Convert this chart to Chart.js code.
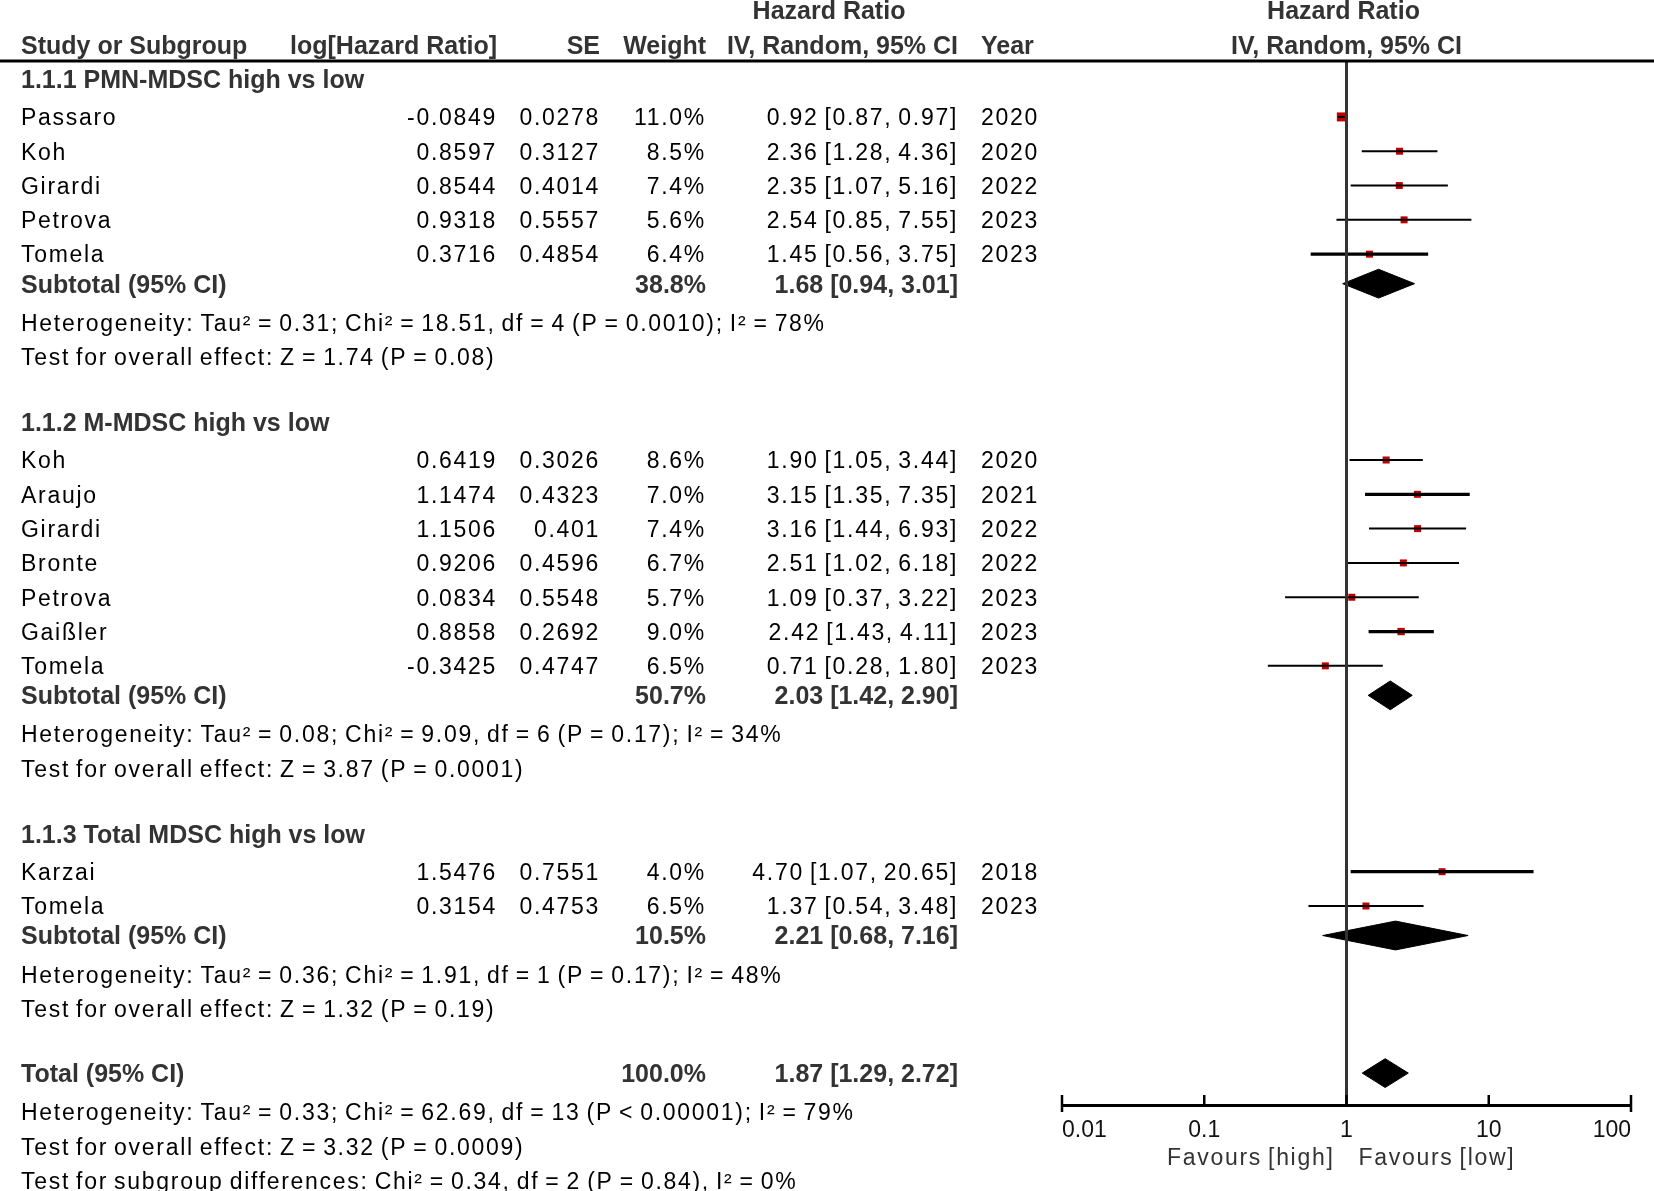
<!DOCTYPE html>
<html>
<head>
<meta charset="utf-8">
<title>Forest plot - MDSC high vs low</title>
<script src="https://cdn.jsdelivr.net/npm/chart.js@4.4.1/dist/chart.umd.min.js"></script>
<style>
  html, body { margin: 0; padding: 0; background: #fff; }
  canvas { display: block; }
</style>
</head>
<body>
<canvas id="forest" width="1654" height="1191"></canvas>
<script>
// dados do forest plot
const groupTitles = ['1.1.1 PMN-MDSC high vs low', '1.1.2 M-MDSC high vs low', '1.1.3 Total MDSC high vs low'];
const studyNames = ['Passaro', 'Koh', 'Girardi', 'Petrova', 'Tomela',
                    'Koh', 'Araujo', 'Girardi', 'Bronte', 'Petrova', 'Gaißler', 'Tomela',
                    'Karzai', 'Tomela'];
const studyGroup = [0, 0, 0, 0, 0, 1, 1, 1, 1, 1, 1, 1, 2, 2];
const logHR = [-0.0849, 0.8597, 0.8544, 0.9318, 0.3716, 0.6419, 1.1474, 1.1506, 0.9206, 0.0834, 0.8858, -0.3425, 1.5476, 0.3154];
const seValues = [0.0278, 0.3127, 0.4014, 0.5557, 0.4854, 0.3026, 0.4323, 0.401, 0.4596, 0.5548, 0.2692, 0.4747, 0.7551, 0.4753];
const weights = [11.0, 8.5, 7.4, 5.6, 6.4, 8.6, 7.0, 7.4, 6.7, 5.7, 9.0, 6.5, 4.0, 6.5];
const hrValues = [0.92, 2.36, 2.35, 2.54, 1.45, 1.90, 3.15, 3.16, 2.51, 1.09, 2.42, 0.71, 4.70, 1.37];
const hrLow = [0.87, 1.28, 1.07, 0.85, 0.56, 1.05, 1.35, 1.44, 1.02, 0.37, 1.43, 0.28, 1.07, 0.54];
const hrHigh = [0.97, 4.36, 5.16, 7.55, 3.75, 3.44, 7.35, 6.93, 6.18, 3.22, 4.11, 1.80, 20.65, 3.48];
const years = [2020, 2020, 2022, 2023, 2023, 2020, 2021, 2022, 2022, 2023, 2023, 2023, 2018, 2023];

const subWeight = [38.8, 50.7, 10.5];
const subHR = [1.68, 2.03, 2.21];
const subLow = [0.94, 1.42, 0.68];
const subHigh = [3.01, 2.90, 7.16];
const subHeterogeneity = [
    'Heterogeneity: Tau² = 0.31; Chi² = 18.51, df = 4 (P = 0.0010); I² = 78%',
    'Heterogeneity: Tau² = 0.08; Chi² = 9.09, df = 6 (P = 0.17); I² = 34%',
    'Heterogeneity: Tau² = 0.36; Chi² = 1.91, df = 1 (P = 0.17); I² = 48%'
];
const subEffect = [
    'Test for overall effect: Z = 1.74 (P = 0.08)',
    'Test for overall effect: Z = 3.87 (P = 0.0001)',
    'Test for overall effect: Z = 1.32 (P = 0.19)'
];

const totalWeight = 100.0;
const totalHR = 1.87;
const totalLow = 1.29;
const totalHigh = 2.72;
const totalNotes = [
    'Heterogeneity: Tau² = 0.33; Chi² = 62.69, df = 13 (P < 0.00001); I² = 79%',
    'Test for overall effect: Z = 3.32 (P = 0.0009)',
    'Test for subgroup differences: Chi² = 0.34, df = 2 (P = 0.84), I² = 0%'
];

const tickValues = [0.01, 0.1, 1, 10, 100];
const tickLabels = ['0.01', '0.1', '1', '10', '100'];
const favourLabels = ['Favours [high]', 'Favours [low]'];

// linhas da tabela (posição em "linhas", não em pixels)
const rows = [];
let pos = 0.52;
groupTitles.forEach((title, g) => {
    rows.push({ kind: 'title', g, y: pos });
    pos += 1.11;
    studyNames.forEach((name, i) => {
        if (studyGroup[i] !== g) return;
        rows.push({ kind: 'study', i, y: pos });
        pos += 1;
    });
    pos -= 0.14;
    rows.push({ kind: 'subtotal', g, y: pos });
    pos += 1.13;
    rows.push({ kind: 'note', text: subHeterogeneity[g], y: pos });
    pos += 1;
    rows.push({ kind: 'note', text: subEffect[g], y: pos });
    pos += 1.9;
});
pos -= 0.02;
rows.push({ kind: 'total', y: pos });
pos += 1.13;
totalNotes.forEach(t => { rows.push({ kind: 'note', text: t, y: pos }); pos += 1; });

const axisRow = 30.43;
const thickCI = new Set([4, 6, 10, 12]);

const fmt2 = v => v.toFixed(2);
const ciText = (h, l, u) => `${fmt2(h)} [${fmt2(l)}, ${fmt2(u)}]`;

// datasets
const datasets = [];

// linha vertical no 1
datasets.push({
    type: 'line',
    data: [{ x: 1, y: 0 }, { x: 1, y: axisRow }],
    borderColor: '#333',
    borderWidth: 3,
    pointRadius: 0
});

rows.filter(r => r.kind === 'study').forEach(r => {
    datasets.push({
        type: 'line',
        data: [{ x: hrLow[r.i], y: r.y }, { x: hrHigh[r.i], y: r.y }],
        borderColor: '#000',
        borderWidth: thickCI.has(r.i) ? 3.2 : 2,
        pointRadius: 0
    });
});

// quadrado: tamanho mínimo, cresce com o peso
const studyRows = rows.filter(r => r.kind === 'study');
datasets.push({
    type: 'scatter',
    data: studyRows.map(r => ({ x: hrValues[r.i], y: r.y })),
    pointStyle: 'rect',
    pointBackgroundColor: '#c00000',
    pointBorderColor: '#c00000',
    pointBorderWidth: 0,
    pointRadius: studyRows.map(r => Math.max(7, weights[r.i] * 0.82) / Math.SQRT2)
});

function diamond(h, l, u, y) {
    const d = 0.42;
    return {
        type: 'line',
        data: [{ x: l, y }, { x: h, y: y - d }, { x: u, y }, { x: h, y: y + d }, { x: l, y }],
        borderColor: '#000',
        backgroundColor: '#000',
        borderWidth: 1,
        fill: 'shape',
        pointRadius: 0
    };
}
rows.filter(r => r.kind === 'subtotal').forEach(r => {
    datasets.push(diamond(subHR[r.g], subLow[r.g], subHigh[r.g], r.y));
});
rows.filter(r => r.kind === 'total').forEach(r => {
    datasets.push(diamond(totalHR, totalLow, totalHigh, r.y));
});

// colunas
const col = { name: 21, logHR: 497, se: 600, weight: 706, ci: 958, year: 981 };
const bodyFont = '23px "Liberation Sans", Arial, sans-serif';
const boldFont = 'bold 25px "Liberation Sans", Arial, sans-serif';

function txt(ctx, s, x, y, align, font, color, spacing, wordSp) {
    ctx.font = font;
    ctx.fillStyle = color;
    ctx.textAlign = align;
    ctx.textBaseline = 'middle';
    ctx.letterSpacing = spacing || '0px';
    ctx.wordSpacing = wordSp || '0px';
    ctx.fillText(s, x, y + 2);
}

const tablePlugin = {
    id: 'tablePlugin',
    afterDraw(chart) {
        const ctx = chart.ctx;
        const ys = chart.scales.y;
        const xs = chart.scales.x;
        const area = chart.chartArea;
        const Y = v => ys.getPixelForValue(v);
        ctx.save();

        // cabeçalho
        const h1 = Y(-1.47), h2 = Y(-0.47);
        const hc = '#333';
        txt(ctx, 'Study or Subgroup', col.name, h2, 'left', boldFont, hc);
        txt(ctx, 'log[Hazard Ratio]', col.logHR, h2, 'right', boldFont, hc);
        txt(ctx, 'SE', col.se, h2, 'right', boldFont, hc);
        txt(ctx, 'Weight', col.weight, h2, 'right', boldFont, hc);
        txt(ctx, 'Hazard Ratio', 829, h1, 'center', boldFont, hc);
        txt(ctx, 'IV, Random, 95% CI', col.ci, h2, 'right', boldFont, hc);
        txt(ctx, 'Year', col.year, h2, 'left', boldFont, hc);
        const xMid = (area.left + area.right) / 2;
        txt(ctx, 'Hazard Ratio', xMid - 3, h1, 'center', boldFont, hc);
        txt(ctx, 'IV, Random, 95% CI', xMid, h2, 'center', boldFont, hc);

        ctx.strokeStyle = '#000';
        ctx.lineWidth = 3;
        ctx.beginPath();
        ctx.moveTo(0, Y(0));
        ctx.lineTo(chart.width, Y(0));
        ctx.stroke();

        const sp = '1.7px', ws = '-2px';
        rows.forEach(r => {
            const y = Y(r.y);
            if (r.kind === 'title') {
                txt(ctx, groupTitles[r.g], col.name, y, 'left', boldFont, hc);
            } else if (r.kind === 'study') {
                const i = r.i;
                txt(ctx, studyNames[i], col.name, y, 'left', bodyFont, '#000', sp, ws);
                txt(ctx, String(logHR[i]), col.logHR, y, 'right', bodyFont, '#000', sp, ws);
                txt(ctx, String(seValues[i]), col.se, y, 'right', bodyFont, '#000', sp, ws);
                txt(ctx, weights[i].toFixed(1) + '%', col.weight, y, 'right', bodyFont, '#000', sp, ws);
                txt(ctx, ciText(hrValues[i], hrLow[i], hrHigh[i]), col.ci, y, 'right', bodyFont, '#000', sp, ws);
                txt(ctx, String(years[i]), col.year, y, 'left', bodyFont, '#000', sp, ws);
            } else if (r.kind === 'subtotal' || r.kind === 'total') {
                const isT = r.kind === 'total';
                txt(ctx, isT ? 'Total (95% CI)' : 'Subtotal (95% CI)', col.name, y, 'left', boldFont, hc);
                txt(ctx, (isT ? totalWeight : subWeight[r.g]).toFixed(1) + '%', col.weight, y, 'right', boldFont, hc);
                const s = isT ? ciText(totalHR, totalLow, totalHigh) : ciText(subHR[r.g], subLow[r.g], subHigh[r.g]);
                txt(ctx, s, col.ci, y, 'right', boldFont, hc);
            } else {
                txt(ctx, r.text, col.name, y, 'left', bodyFont, '#000', sp, ws);
            }
        });

        // marcas do eixo
        const ay = area.bottom;
        ctx.strokeStyle = '#000';
        ctx.lineWidth = 2.5;
        tickValues.forEach((v, k) => {
            const x = xs.getPixelForValue(v);
            const end = (k === 0 || k === tickValues.length - 1);
            ctx.beginPath();
            ctx.moveTo(x, ay - 10);
            ctx.lineTo(x, end ? ay + 7 : ay);
            ctx.stroke();
        });

        const x1 = xs.getPixelForValue(1);
        txt(ctx, favourLabels[0], x1 - 12, 1157, 'right', bodyFont, '#333', sp, ws);
        txt(ctx, favourLabels[1], x1 + 12, 1157, 'left', bodyFont, '#333', sp, ws);
        ctx.restore();
    }
};

new Chart(document.getElementById('forest'), {
    type: 'scatter',
    data: { datasets },
    options: {
        responsive: false,
        devicePixelRatio: 1,
        animation: false,
        layout: { padding: { left: 1062, right: 23, top: 61, bottom: 0 } },
        plugins: { legend: { display: false }, tooltip: { enabled: false } },
        scales: {
            x: {
                type: 'logarithmic',
                min: 0.01,
                max: 100,
                position: 'bottom',
                afterBuildTicks: s => { s.ticks = tickValues.map(v => ({ value: v })); },
                afterFit: s => { s.height = 1191 - 61 - 1044; },
                grid: { display: false, drawTicks: false },
                border: { display: true, color: '#000', width: 3 },
                ticks: {
                    align: 'inner',
                    padding: 12,
                    color: '#111',
                    font: { family: '"Liberation Sans", Arial, sans-serif', size: 23 },
                    callback: (v, i) => tickLabels[i]
                }
            },
            y: {
                type: 'linear',
                min: 0,
                max: axisRow,
                reverse: true,
                display: false
            }
        }
    },
    plugins: [tablePlugin]
});
</script>
</body>
</html>
